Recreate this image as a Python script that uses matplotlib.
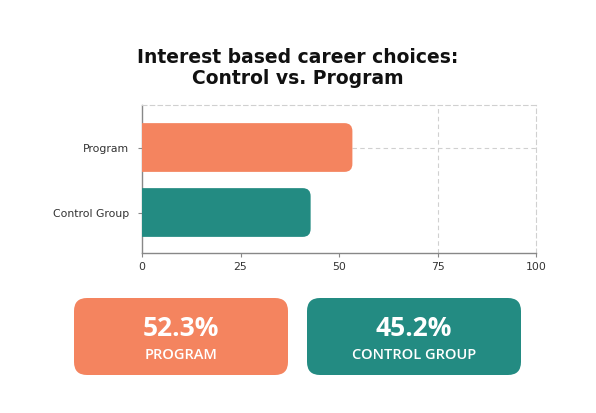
import numpy as np
import matplotlib
matplotlib.use("Agg")
import matplotlib.pyplot as plt
from matplotlib.patches import FancyBboxPatch

plt.rcParams['font.family'] = ['DejaVu Sans']

# data
groups = ['Control Group', 'Program']
bar_values = [42.8, 53.4]
bar_colors = ['#238B82', '#F4845F']
x_ticks = [0, 25, 50, 75, 100]

card_values = ['52.3%', '45.2%']
card_labels = ['PROGRAM', 'CONTROL GROUP']
card_colors = ['#F4845F', '#238B82']

title = 'Interest based career choices:\nControl vs. Program'

# %%
fig = plt.figure(figsize=(5.96, 4.13), dpi=100)
ax = fig.add_axes([142/596, 1 - 253/413, (536-142)/596, (253-105)/413])

ypos = np.arange(len(groups))
bars = ax.barh(ypos, bar_values, height=0.75, color='none')
r = 2.0
for b, c in zip(bars, bar_colors):
    x0, y0 = b.get_x(), b.get_y()
    w, h = b.get_width(), b.get_height()
    p = FancyBboxPatch((x0 - 2*r, y0), w + 2*r, h,
                       boxstyle="round,pad=0,rounding_size=%g" % r,
                       mutation_aspect=0.123/r,
                       facecolor=c, edgecolor='none', zorder=3)
    ax.add_patch(p)

ax.set_xlim(0, 100)
ax.set_ylim(-0.623, 1.654)
ax.set_xticks(x_ticks)
ax.set_yticks(ypos)
ax.set_yticklabels(groups)

grid_kw = dict(color='#d0d0d0', linestyle=(0, (4, 3)), linewidth=0.8, zorder=1)
ax.axvline(x_ticks[3], **grid_kw)
ax.axhline(ypos[1], **grid_kw)

for s in ['top', 'right']:
    ax.spines[s].set_color('#d0d0d0')
    ax.spines[s].set_linestyle((0, (4, 3)))
    ax.spines[s].set_linewidth(0.8)
for s in ['left', 'bottom']:
    ax.spines[s].set_color('#888888')
    ax.spines[s].set_linewidth(1.0)

ax.tick_params(axis='both', colors='#888888', length=3, width=0.8,
               labelsize=7.8, labelcolor='#333333')
ax.tick_params(axis='y', pad=6)

fig.text(0.5, 1 - 68/413, title, ha='center', va='center',
         fontsize=13.5, fontweight='bold', color='#111111', linespacing=1.15)

# cards
card_x = [74, 307]
card_w = 214
for cx, v, lab, c in zip(card_x, card_values, card_labels, card_colors):
    rs = 13/596
    p = FancyBboxPatch((cx/596, 1 - 375/413), card_w/596, 77/413,
                       boxstyle="round,pad=0,rounding_size=%g" % rs,
                       mutation_aspect=(13/413)/rs,
                       transform=fig.transFigure, facecolor=c,
                       edgecolor='none')
    fig.patches.append(p)
    xc = (cx + card_w/2)/596
    fig.text(xc, 1 - 328/413, v, ha='center', va='center', fontsize=19,
             fontweight='bold', color='white', family='Open Sans')
    fig.text(xc, 1 - 355/413, lab, ha='center', va='center', fontsize=10.5,
             fontweight='semibold', color='white', family='Open Sans')

fig.savefig('out.png', dpi=100, facecolor='white')
